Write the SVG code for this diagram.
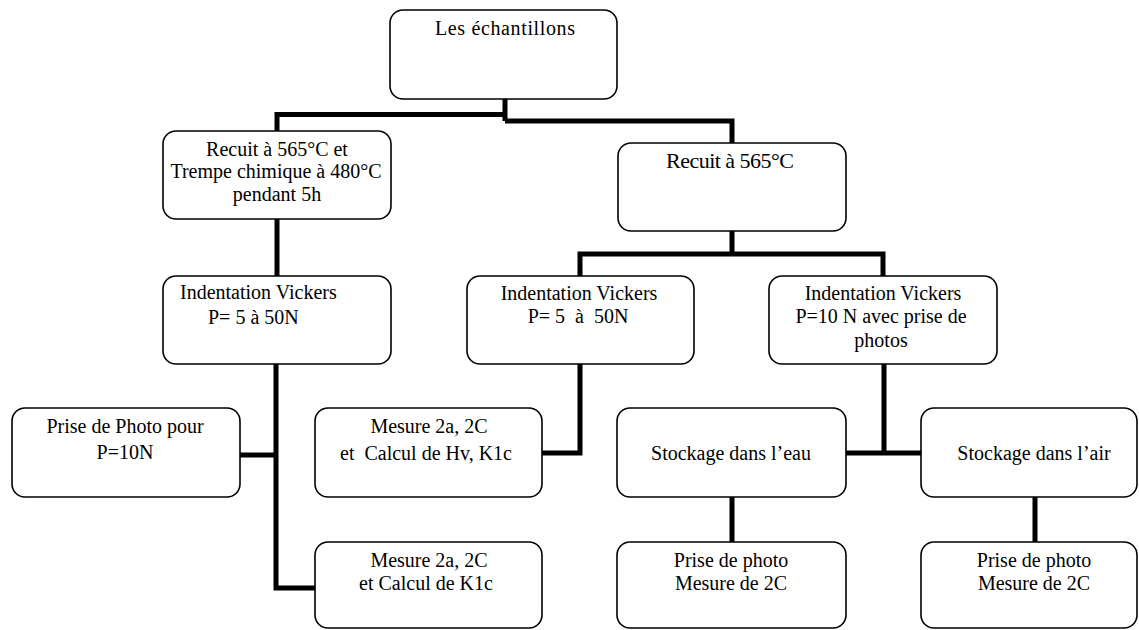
<svg xmlns="http://www.w3.org/2000/svg" width="1139" height="630" viewBox="0 0 1139 630">
<style>
.box{fill:#fff;stroke:#000;stroke-width:1.6}
.t{font-family:"Liberation Serif","Times New Roman",serif;font-size:20px;fill:#000;white-space:pre}
.c{text-anchor:middle}
.ln{fill:none;stroke:#000;stroke-width:5;stroke-linejoin:miter;stroke-linecap:butt}
</style>
<rect width="1139" height="630" fill="#fff"/>
<g id="connectors">
<path class="ln" d="M505,99 V121 M505,114.5 H277 V131 M505,121 H732 V143"/>
<path class="ln" d="M277,219 V276"/>
<path class="ln" d="M732,231 V254 M580,276 V254 H883 V276"/>
<path class="ln" d="M276,364 V588 H315 M240,455 H276"/>
<path class="ln" d="M580,364 V453 H542"/>
<path class="ln" d="M884,364 V453 M846,453 H921"/>
<path class="ln" d="M732,497 V542 M1035,497 V542"/>
</g>
<g id="n_echantillons">
<rect class="box" x="390" y="10" width="227" height="89" rx="13"/>
<text class="t c" x="505" y="35" textLength="140">Les échantillons</text>
</g>
<g id="n_recuit_trempe">
<rect class="box" x="163" y="131" width="228" height="88" rx="13"/>
<text class="t c" x="277" y="156">Recuit à 565°C et</text>
<text class="t c" x="276" y="178">Trempe chimique à 480°C</text>
<text class="t c" x="277" y="201">pendant 5h</text>
</g>
<g id="n_recuit">
<rect class="box" x="618" y="143" width="228" height="88" rx="13"/>
<text class="t c" x="730" y="168" style="font-size:22px" textLength="128">Recuit à 565°C</text>
</g>
<g id="n_indent_left">
<rect class="box" x="163" y="276" width="228" height="88" rx="13"/>
<text class="t" x="180" y="299">Indentation Vickers</text>
<text class="t" x="208" y="324">P= 5 à 50N</text>
</g>
<g id="n_indent_mid">
<rect class="box" x="467" y="276" width="227" height="88" rx="13"/>
<text class="t c" x="579" y="300">Indentation Vickers</text>
<text class="t c" x="578" y="323">P= 5  à  50N</text>
</g>
<g id="n_indent_right">
<rect class="box" x="769" y="276" width="228" height="88" rx="13"/>
<text class="t c" x="883" y="300">Indentation Vickers</text>
<text class="t c" x="881" y="323">P=10 N avec prise de</text>
<text class="t c" x="881" y="347">photos</text>
</g>
<g id="n_prise_photo_10n">
<rect class="box" x="12" y="408" width="228" height="89" rx="13"/>
<text class="t c" x="125" y="433">Prise de Photo pour</text>
<text class="t c" x="125" y="459">P=10N</text>
</g>
<g id="n_mesure_hv">
<rect class="box" x="315" y="408" width="227" height="89" rx="13"/>
<text class="t c" x="429" y="433">Mesure 2a, 2C</text>
<text class="t c" x="426" y="460">et  Calcul de Hv, K1c</text>
</g>
<g id="n_stock_eau">
<rect class="box" x="617" y="408" width="229" height="89" rx="13"/>
<text class="t c" x="731" y="460">Stockage dans l’eau</text>
</g>
<g id="n_stock_air">
<rect class="box" x="921" y="408" width="216" height="89" rx="13"/>
<text class="t c" x="1034" y="460">Stockage dans l’air</text>
</g>
<g id="n_mesure_k1c">
<rect class="box" x="315" y="542" width="227" height="86" rx="13"/>
<text class="t c" x="429" y="567">Mesure 2a, 2C</text>
<text class="t c" x="426" y="590">et Calcul de K1c</text>
</g>
<g id="n_photo_eau">
<rect class="box" x="617" y="542" width="229" height="86" rx="13"/>
<text class="t c" x="731" y="567">Prise de photo</text>
<text class="t c" x="731" y="590">Mesure de 2C</text>
</g>
<g id="n_photo_air">
<rect class="box" x="921" y="542" width="216" height="86" rx="13"/>
<text class="t c" x="1034" y="567">Prise de photo</text>
<text class="t c" x="1034" y="590">Mesure de 2C</text>
</g>
</svg>
